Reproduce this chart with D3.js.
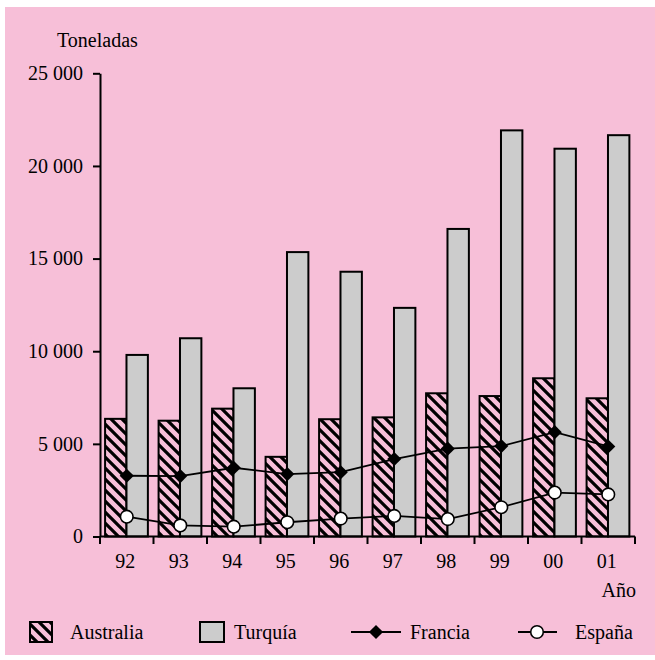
<!DOCTYPE html>
<html><head><meta charset="utf-8">
<script src="https://cdn.jsdelivr.net/npm/d3@7"></script>
<style>
html,body{margin:0;padding:0;background:#fff;}
svg{display:block;}
svg text{font-family:"Liberation Serif","Times New Roman",Times,"DejaVu Serif",serif !important;}
</style></head>
<body>
<svg id="chart" width="655" height="660"></svg>
<script>
const categories = ["92","93","94","95","96","97","98","99","00","01"];
const australia = [6350, 6250, 6900, 4300, 6330, 6430, 7730, 7580, 8540, 7460];
const turquia   = [9800, 10700, 8000, 15350, 14290, 12340, 16600, 21920, 20930, 21660];
const francia   = [3280, 3260, 3710, 3370, 3470, 4180, 4740, 4880, 5630, 4860];
const espana    = [1070, 600, 530, 770, 970, 1110, 940, 1580, 2370, 2270];
const yTicks = [0, 5000, 10000, 15000, 20000, 25000];
const seriesNames = ["Australia","Turquía","Francia","España"];

const FONT = "'Liberation Serif', 'Times New Roman', Times, serif";
const svg = d3.select("#chart");
const FS = 20;
svg.append("rect").attr("x",5).attr("y",7).attr("width",650).attr("height",648).attr("fill","#f7bfd8");

const defs = svg.append("defs");
const P = 11;
const pat = defs.append("pattern").attr("id","hatch").attr("patternUnits","userSpaceOnUse")
  .attr("width",P).attr("height",P);
pat.append("rect").attr("width",P).attr("height",P).attr("fill","#f7bfd8");
pat.append("path").attr("d",`M${-P/2},${-P/2} L${P*1.5},${P*1.5} M${-P/2},${P/2} L${P/2},${P*1.5} M${P/2},${-P/2} L${P*1.5},${P/2}`)
  .attr("stroke","#000").attr("stroke-width",3.2);

const x = d3.scaleBand().domain(categories).range([100,635]).padding(0);
const y = d3.scaleLinear().domain([0,25000]).range([536.5,73.3]);
const bw = x.bandwidth();

const fmt = v => v===0 ? "0" : d3.format(",")(v).replace(/,/g," ");

// Bars
svg.append("g").selectAll("rect").data(categories).join("rect")
  .attr("x", c => x(c) + bw*0.095).attr("width", bw*0.4)
  .attr("y", (c,i) => y(australia[i])).attr("height", (c,i) => y(0)-y(australia[i]))
  .attr("fill","url(#hatch)").attr("stroke","#000").attr("stroke-width",2);
svg.append("g").selectAll("rect").data(categories).join("rect")
  .attr("x", c => x(c) + bw*0.495).attr("width", bw*0.4)
  .attr("y", (c,i) => y(turquia[i])).attr("height", (c,i) => y(0)-y(turquia[i]))
  .attr("fill","#cccccc").attr("stroke","#000").attr("stroke-width",2);

// Axes
const yAxis = svg.append("g").attr("transform","translate(100,0)")
  .call(d3.axisLeft(y).tickValues(yTicks).tickFormat(fmt).tickSize(7).tickSizeOuter(0).tickPadding(10));
yAxis.attr("font-family",FONT).attr("font-size",FS);
yAxis.selectAll("line,path").attr("stroke","#000").attr("stroke-width",2);
yAxis.selectAll("text").attr("font-size",FS).attr("fill","#000");

const xAxis = svg.append("g").attr("transform",`translate(0,${y(0)})`)
  .call(d3.axisBottom(x).tickSize(0).tickPadding(0));
xAxis.attr("font-family",FONT).attr("font-size",FS);
xAxis.select(".domain").remove();
xAxis.selectAll("text").attr("font-size",FS).attr("fill","#000").attr("y",31).attr("dy",0)
  .attr("dx",-1.5);
const bounds = categories.map(c => x(c)).concat([x.range()[1]]);
svg.append("line").attr("x1",100).attr("x2",635).attr("y1",y(0)).attr("y2",y(0))
  .attr("stroke","#000").attr("stroke-width",2);
svg.append("g").selectAll("line").data(bounds).join("line")
  .attr("x1",d=>d).attr("x2",d=>d).attr("y1",y(0)).attr("y2",y(0)+7.5)
  .attr("stroke","#000").attr("stroke-width",2);

// Lines
const line = d3.line().x((d,i)=>x(categories[i])+bw/2).y(d=>y(d));
svg.append("path").datum(francia).attr("d",line).attr("fill","none").attr("stroke","#000").attr("stroke-width",1.8);
svg.append("path").datum(espana).attr("d",line).attr("fill","none").attr("stroke","#000").attr("stroke-width",1.8);
const dia = d3.symbol().type(d3.symbolSquare).size(100);
svg.append("g").selectAll("path").data(francia).join("path")
  .attr("transform",(d,i)=>`translate(${x(categories[i])+bw/2},${y(d)}) rotate(45)`)
  .attr("d", dia).attr("fill","#000");
svg.append("g").selectAll("circle").data(espana).join("circle")
  .attr("cx",(d,i)=>x(categories[i])+bw/2).attr("cy",d=>y(d)).attr("r",6.3)
  .attr("fill","#fff").attr("stroke","#000").attr("stroke-width",1.6);

// Titles
svg.append("text").attr("x",57).attr("y",47).attr("font-family",FONT).attr("font-size",FS).text("Toneladas");
svg.append("text").attr("x",636).attr("y",597).attr("font-family",FONT).attr("font-size",FS).attr("text-anchor","end").text("Año");

// Legend
const lg = svg.append("g").attr("font-family",FONT).attr("font-size",FS);
const ly = 632;
lg.append("rect").attr("x",30).attr("y",ly-10).attr("width",22).attr("height",20)
  .attr("fill","url(#hatch)").attr("stroke","#000").attr("stroke-width",2);
lg.append("text").attr("x",70).attr("y",ly+7).text(seriesNames[0]);
lg.append("rect").attr("x",200).attr("y",ly-10).attr("width",24).attr("height",20)
  .attr("fill","#cccccc").attr("stroke","#000").attr("stroke-width",2);
lg.append("text").attr("x",234).attr("y",ly+7).text(seriesNames[1]);
lg.append("line").attr("x1",351).attr("x2",401).attr("y1",ly).attr("y2",ly).attr("stroke","#000").attr("stroke-width",1.8);
lg.append("path").attr("transform",`translate(376,${ly}) rotate(45)`).attr("d", dia).attr("fill","#000");
lg.append("text").attr("x",410).attr("y",ly+7).text(seriesNames[2]);
lg.append("line").attr("x1",518).attr("x2",557).attr("y1",ly).attr("y2",ly).attr("stroke","#000").attr("stroke-width",1.8);
lg.append("circle").attr("cx",537).attr("cy",ly).attr("r",6.3).attr("fill","#fff").attr("stroke","#000").attr("stroke-width",1.6);
lg.append("text").attr("x",575).attr("y",ly+7).text(seriesNames[3]);
</script>
</body></html>
